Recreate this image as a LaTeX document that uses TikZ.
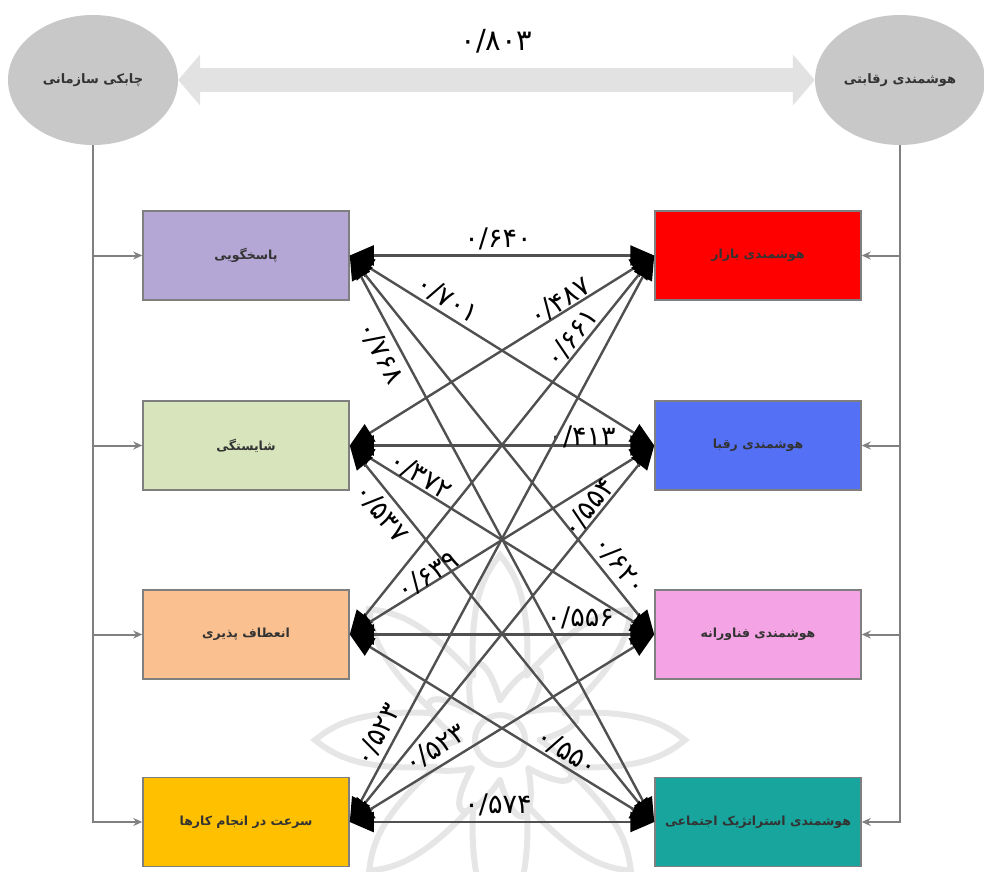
\documentclass[tikz,border=0pt]{standalone}
\usepackage{fontspec}
\usetikzlibrary{arrows.meta,shapes.geometric}
\TeXXeTstate=1
\newfontfamily\arabicfont[Script=Arabic]{DejaVu Sans}
\newfontfamily\numfont{DejaVu Sans}
\definecolor{cLa}{HTML}{B4A7D6}
\definecolor{cLb}{HTML}{D7E4BC}
\definecolor{cLc}{HTML}{FAC090}
\definecolor{cLd}{HTML}{FFC000}
\definecolor{cRa}{HTML}{FF0000}
\definecolor{cRb}{HTML}{5470F5}
\definecolor{cRc}{HTML}{F4A4E4}
\definecolor{cRd}{HTML}{17A59D}
\definecolor{boxborder}{HTML}{7F7F7F}
\definecolor{ovalfill}{HTML}{C8C8C8}
\definecolor{linkgray}{HTML}{505050}
\definecolor{feedgray}{HTML}{808080}
\definecolor{bigarrowfill}{HTML}{E2E2E2}
\definecolor{wmgray}{HTML}{E6E6E6}
\tikzset{
  box/.style={draw=boxborder, line width=1.5pt, minimum width=206pt, minimum height=89pt,
    inner sep=0pt, font=\arabicfont\bfseries\fontsize{12.5}{15}\selectfont, text=black!80},
  oval/.style={ellipse, fill=ovalfill, minimum width=170pt, minimum height=130pt,
    inner sep=0pt, font=\arabicfont\bfseries\fontsize{13}{15}\selectfont, text=black!80},
  link/.style={draw=linkgray, line width=2.4pt,
    {Triangle[length=24pt,width=20pt,color=black]}-{Triangle[length=24pt,width=20pt,color=black]}},
  feed/.style={draw=feedgray, line width=2pt},
  feedarrow/.style={feed, -{Stealth[length=9pt,width=8pt]}},
  val/.style={font=\numfont\fontsize{27}{27}\selectfont, inner sep=0pt, text height=20pt, text depth=0pt, sloped},
  bigarrow/.style={draw=bigarrowfill, line width=24pt,
    {Triangle[length=22pt,width=50pt,color=bigarrowfill]}-{Triangle[length=22pt,width=50pt,color=bigarrowfill]}},
  wm/.style={draw=wmgray, line width=6pt, line cap=round}
}
\begin{document}
\begin{tikzpicture}[x=1pt,y=-1pt]
\useasboundingbox (0,0) rectangle (984,871);
% watermark
\begin{scope}[shift={(500,740)}]
  \foreach \a in {0,45,...,315} {
    \draw[wm] ({\a-22.5}:70) .. controls ({\a-12}:150) and ({\a-4}:170) .. (\a:185)
      .. controls ({\a+4}:170) and ({\a+12}:150) .. ({\a+22.5}:70);
    \draw[wm] (\a:40) .. controls ({\a+20}:90) and ({\a+35}:100) .. ({\a+45}:40);
  }
  \draw[wm] (0,0) circle (25);
\end{scope}
% ovals
\node[oval] (le) at (93,80) {\beginR چابکی سازمانی\endR};
\node[oval] (re) at (900,80) {\beginR هوشمندی رقابتی\endR};
\draw[bigarrow] (le.east) -- node[pos=0.5, above=18pt, font=\numfont\fontsize{29}{29}\selectfont, inner sep=0pt, text height=21pt, text depth=0pt] (v0) {۰/۸۰۳} (re.west);
% boxes
\node[box, fill=cLa] (L1) at (246,255.5) {\beginR پاسخگویی\endR};
\node[box, fill=cLb] (L2) at (246,445.5) {\beginR شایستگی\endR};
\node[box, fill=cLc] (L3) at (246,634.5) {\beginR انعطاف پذیری\endR};
\node[box, fill=cLd] (L4) at (246,822) {\beginR سرعت در انجام کارها\endR};
\node[box, fill=cRa] (R1) at (758,255.5) {\beginR هوشمندی بازار\endR};
\node[box, fill=cRb] (R2) at (758,445.5) {\beginR هوشمندی رقبا\endR};
\node[box, fill=cRc] (R3) at (758,634.5) {\beginR هوشمندی فناورانه\endR};
\node[box, fill=cRd] (R4) at (758,822) {\beginR هوشمندی استراتژیک اجتماعی\endR};
% feed lines
\draw[feedarrow] (le.south) |- (L4.west);
\draw[feedarrow] (re.south) |- (R4.east);
\coordinate (la) at (le.south |- L1.west);
\coordinate (lb) at (le.south |- L2.west);
\coordinate (lc) at (le.south |- L3.west);
\coordinate (ra) at (re.south |- R1.east);
\coordinate (rb) at (re.south |- R2.east);
\coordinate (rc) at (re.south |- R3.east);
\draw[feedarrow] (la) -- (L1.west);
\draw[feedarrow] (lb) -- (L2.west);
\draw[feedarrow] (lc) -- (L3.west);
\draw[feedarrow] (ra) -- (R1.east);
\draw[feedarrow] (rb) -- (R2.east);
\draw[feedarrow] (rc) -- (R3.east);
% links
\draw[link] (L1.east) -- node[val,pos=0.487,above=7pt]{۰/۶۴۰} (R1.west);
\draw[link] (L1.east) -- node[val,pos=0.296,above=5pt]{۰/۷۰۱} (R2.west);
\draw[link] (L1.east) -- node[val,pos=0.845,above=7pt]{۰/۶۲۰} (R3.west);
\draw[link] (L1.east) -- node[val,pos=0.156,below=6pt]{۰/۷۶۸} (R4.west);
\draw[link] (L2.east) -- node[val,pos=0.71,above=1pt]{۰/۴۸۷} (R1.west);
\draw[link] (L2.east) -- node[val,pos=0.763,above=-1pt]{۰/۴۱۳} (R2.west);
\draw[link] (L2.east) -- node[val,pos=0.213,above=2pt]{۰/۳۷۲} (R3.west);
\draw[link] (L2.east) -- node[val,pos=0.150,below=5pt]{۰/۵۳۷} (R4.west);
\draw[link] (L3.east) -- node[val,pos=0.762,above=2.5pt]{۰/۶۶۱} (R1.west);
\draw[link] (L3.east) -- node[val,pos=0.272,above=-1pt]{۰/۶۳۹} (R2.west);
\draw[link] (L3.east) -- node[val,pos=0.757,above=7pt]{۰/۵۵۶} (R3.west);
\draw[link] (L3.east) -- node[val,pos=0.690,above=4pt]{۰/۵۵۰} (R4.west);
\draw[link] (L4.east) -- node[val,pos=0.140,above=6.5pt]{۰/۵۲۳} (R1.west);
\draw[link] (L4.east) -- node[val,pos=0.814,above=2pt]{۰/۵۵۴} (R2.west);
\draw[link] (L4.east) -- node[val,pos=0.311,above=8pt]{۰/۵۲۳} (R3.west);
\draw[link] (L4.east) -- node[val,pos=0.487,above=7pt]{۰/۵۷۴} (R4.west);
\end{tikzpicture}
\end{document}
